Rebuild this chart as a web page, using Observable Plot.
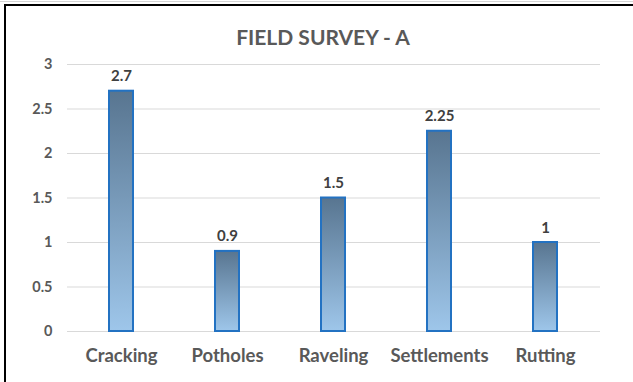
<!DOCTYPE html>
<html>
<head>
<meta charset="utf-8">
<script src="https://cdn.jsdelivr.net/npm/d3@7"></script>
<script src="https://cdn.jsdelivr.net/npm/@observablehq/plot@0.6"></script>
<style>
  html, body { margin: 0; padding: 0; background: #fff; }
  #wrap { position: relative; width: 633px; height: 382px; overflow: hidden; }
  #frame { position: absolute; left: 4px; top: 4px; width: 640px; height: 400px;
           border-left: 2px solid #000; border-top: 2px solid #000; pointer-events: none; }
  #sheet { position: absolute; left: 0; top: 1px; width: 633px; height: 0; border-top: 1px solid #d4d4d4; }
</style>
</head>
<body>
<div id="wrap"><div id="sheet"></div><div id="frame"></div></div>
<script>
const title = "FIELD SURVEY - A";
const categories = ["Cracking", "Potholes", "Raveling", "Settlements", "Rutting"];
const values = [2.7, 0.9, 1.5, 2.25, 1];
const valueLabels = ["2.7", "0.9", "1.5", "2.25", "1"];
const yTicks = [0, 0.5, 1, 1.5, 2, 2.5, 3];

const data = categories.map((c, i) => ({category: c, value: values[i], label: valueLabels[i]}));
const font = "Lato, 'Open Sans', sans-serif";

const chart = Plot.plot({
  width: 633,
  height: 382,
  marginLeft: 67,
  marginRight: 33,
  marginTop: 64,
  marginBottom: 51,
  style: {fontFamily: font, background: "transparent"},
  x: {domain: categories, paddingInner: 0.77, paddingOuter: 0.385, label: null},
  y: {domain: [0, 3], ticks: yTicks, label: null},
  marks: [
    Plot.ruleY(yTicks, {stroke: "#d9d9d9", strokeWidth: 1}),
    Plot.axisY({ticks: yTicks, tickSize: 0, tickPadding: 15, label: null,
      tickFormat: d => String(d), fontSize: 14.5, fontWeight: "bold", fill: "#595959"}),
    Plot.axisX({tickSize: 0, tickPadding: 17, label: null,
      fontSize: 18.5, fontWeight: "bold", fill: "#595959"}),
    Plot.barY(data, {x: "category", y: "value", fill: "url(#barGrad)",
      stroke: "#2372c2", strokeWidth: 2}),
    Plot.text(data, {x: "category", y: "value", text: "label", dy: -10, lineAnchor: "bottom",
      fontSize: 15, fontWeight: "bold", fill: "#404040"}),
    Plot.text([title], {frameAnchor: "top", dx: -11, dy: -26, fontSize: 21, fontWeight: "bold",
      fill: "#595959", lineAnchor: "middle"})
  ]
});

const svg = d3.select(chart);
const defs = svg.insert("defs", ":first-child");
const g = defs.append("linearGradient").attr("id", "barGrad")
  .attr("x1", 0).attr("y1", 0).attr("x2", 0).attr("y2", 1);
g.append("stop").attr("offset", "0%").attr("stop-color", "#587590");
g.append("stop").attr("offset", "100%").attr("stop-color", "#9ec6ea");

chart.style.position = "absolute";
chart.style.left = "0";
chart.style.top = "0";
document.getElementById("wrap").insertBefore(chart, document.getElementById("frame"));
</script>
</body>
</html>
